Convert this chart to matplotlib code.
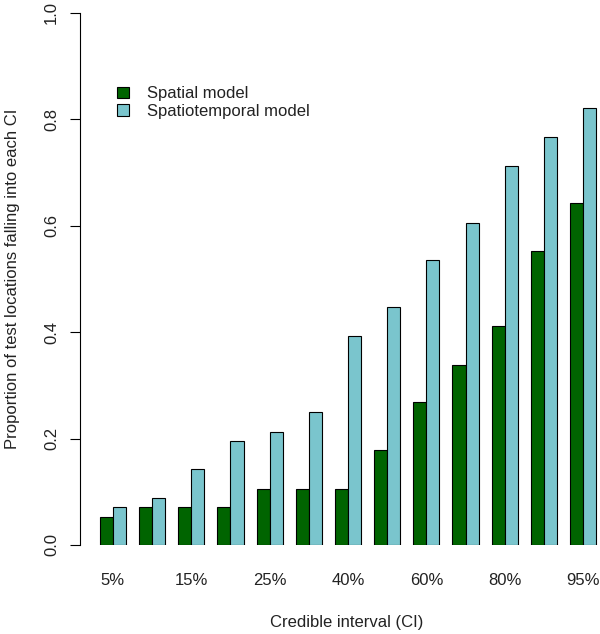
import matplotlib.pyplot as plt
import numpy as np
from matplotlib.patches import Patch

plt.rcParams["font.family"] = ["Liberation Sans", "DejaVu Sans"]

# credible intervals and coverage proportions
intervals = ["5%", "10%", "15%", "20%", "25%", "30%", "40%",
             "50%", "60%", "70%", "80%", "90%", "95%"]
spatial = [0.053, 0.071, 0.071, 0.071, 0.106, 0.106, 0.106,
           0.178, 0.268, 0.339, 0.412, 0.552, 0.642]
spatiotemporal = [0.071, 0.088, 0.142, 0.196, 0.213, 0.250, 0.393,
                  0.447, 0.536, 0.606, 0.713, 0.767, 0.822]
series_names = ["Spatial model", "Spatiotemporal model"]

green = "#006400"
cyan = "#7ac5cd"
txt = "#222222"
fs = 12

W, H = 600, 634
fig = plt.figure(figsize=(W / 100, H / 100), dpi=100)
# plot region in pixels (R-style region runs past the right edge)
left, right, bottom, top = 80, 616, 545, 13
ax = fig.add_axes([left / W, 1 - bottom / H, (right - left) / W, (bottom - top) / H])

n = len(intervals)
idx = np.arange(n)
x_green = 1 + 3 * idx
x_cyan = 2 + 3 * idx
ax.bar(x_green, spatial, width=1, align="edge", color=green,
       edgecolor="black", linewidth=0.8)
ax.bar(x_cyan, spatiotemporal, width=1, align="edge", color=cyan,
       edgecolor="black", linewidth=0.8)

ax.set_xlim(-0.52, 40.52)
ax.set_ylim(0, 1)

for s in ["top", "right", "bottom"]:
    ax.spines[s].set_visible(False)
ax.spines["left"].set_linewidth(0.8)

ax.set_yticks(np.linspace(0, 1, 6))
ax.set_yticklabels([f"{v:.1f}" for v in np.linspace(0, 1, 6)])
ax.tick_params(axis="y", length=7, width=0.8, pad=8, labelsize=fs,
               labelcolor=txt, labelrotation=90)
for lbl in ax.get_yticklabels():
    lbl.set_va("center")

shown = idx[::2]
ax.set_xticks(2 + 3 * shown)
ax.set_xticklabels([intervals[i] for i in shown])
ax.tick_params(axis="x", length=0, pad=20, labelsize=fs, labelcolor=txt)

fig.text(13 / W, 1 - 279 / H,
         "Proportion of test locations falling into each CI",
         rotation=90, ha="center", va="center", fontsize=fs, color=txt)
fig.text(347 / W, 1 - 622 / H, "Credible interval (CI)",
         ha="center", va="center", fontsize=fs, color=txt)

handles = [Patch(facecolor=green, edgecolor="black", linewidth=0.8),
           Patch(facecolor=cyan, edgecolor="black", linewidth=0.8)]
ax.legend(handles, series_names, loc="upper left", frameon=False,
          bbox_to_anchor=(109 / W, 1 - 78 / H), bbox_transform=fig.transFigure,
          fontsize=fs, handlelength=0.7, handleheight=0.7,
          handletextpad=1.1, labelspacing=0.15, borderpad=0,
          labelcolor=txt)

fig.savefig("out.png", dpi=100)
